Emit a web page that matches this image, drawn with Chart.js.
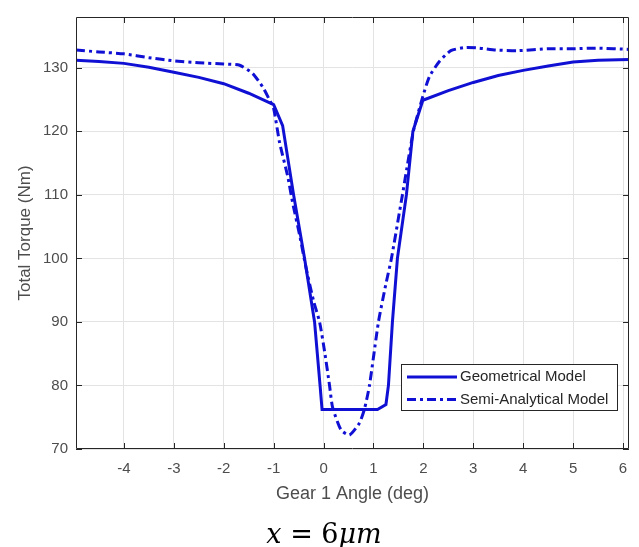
<!DOCTYPE html>
<html>
<head>
<meta charset="utf-8">
<script src="https://cdn.jsdelivr.net/npm/chart.js@4"></script>
<style>
    html, body { margin: 0; padding: 0; background: #ffffff; }
    #wrap { width: 639px; height: 547px; position: relative; }
</style>
</head>
<body>
<div id="wrap"><canvas id="torque-chart"></canvas></div>
<script>
// angles (deg) and torque (Nm)
const geomAngle = [-4.96, -4.5, -4, -3.5, -3, -2.5, -2, -1.5, -1, -0.82, -0.6, -0.38, -0.18, -0.07, -0.03,
    0.5, 1.08, 1.25, 1.3, 1.38, 1.48, 1.66, 1.79, 1.99, 2.5, 3, 3.5, 4, 4.5, 5, 5.5, 6.12];
const geomTorque = [131.2, 131.0, 130.7, 130.1, 129.3, 128.5, 127.5, 126.0, 124.2, 120.9, 110, 100, 90, 80, 76.2,
    76.2, 76.2, 77, 80, 90, 100, 110, 120, 124.9, 126.4, 127.7, 128.8, 129.6, 130.3, 130.9, 131.2, 131.3];

const semiAngle = [-4.96, -4.5, -4, -3.5, -3, -2.5, -2, -1.68, -1.42, -1.22, -1.08, -1.0, -0.88, -0.72, -0.62,
    -0.48, -0.35, -0.2, -0.08, 0.02, 0.12, 0.18, 0.35, 0.52, 0.72, 0.82, 0.92, 1.1, 1.25, 1.36, 1.58, 1.8,
    1.99, 2.12, 2.32, 2.55, 2.85, 3.12, 3.45, 3.9, 4.5, 5, 5.5, 6.12];
const semiTorque = [132.8, 132.5, 132.2, 131.6, 131.1, 130.8, 130.6, 130.4, 129.1, 127.0, 124.9, 123.6, 118.2, 113, 108.8,
    103.7, 98.5, 93.3, 90, 85.4, 80, 76.6, 73, 72.2, 74.1, 76.3, 80, 90, 96, 100, 110, 120,
    125.5, 128.6, 131, 132.7, 133.2, 133.1, 132.8, 132.7, 133, 133, 133.1, 132.9];

const xTicks = [-4, -3, -2, -1, 0, 1, 2, 3, 4, 5, 6];
const yTicks = [70, 80, 90, 100, 110, 120, 130];

const seriesNames = ["Geometrical Model", "Semi-Analytical Model"];
const lineColor = "#1010d4";
const inkColor = "#262626";
const sansFont = '"Liberation Sans", Arial, sans-serif';

function toPoints(xs, ys) {
    return xs.map((x, i) => ({ x: x, y: ys[i] }));
}

// box, inward tick marks, legend and caption in MATLAB style
const matlabFrame = {
    id: "matlabFrame",
    afterDatasetsDraw(chart) {
        const { ctx, chartArea: a, scales } = chart;
        ctx.save();
        ctx.strokeStyle = inkColor;
        ctx.lineWidth = 1;
        ctx.beginPath();
        ctx.rect(a.left + 0.5, a.top + 0.5, a.right - a.left - 1, a.bottom - a.top - 1);
        const tl = 6;
        xTicks.forEach((t) => {
            const px = Math.round(scales.x.getPixelForValue(t)) + 0.5;
            ctx.moveTo(px, a.bottom);
            ctx.lineTo(px, a.bottom - tl);
            ctx.moveTo(px, a.top);
            ctx.lineTo(px, a.top + tl);
        });
        yTicks.forEach((t) => {
            const py = Math.round(scales.y.getPixelForValue(t)) + 0.5;
            ctx.moveTo(a.left, py);
            ctx.lineTo(a.left + tl, py);
            ctx.moveTo(a.right, py);
            ctx.lineTo(a.right - tl, py);
        });
        ctx.stroke();

        // legend
        const lx = 401, ly = 364, lw = 216, lh = 46;
        ctx.fillStyle = "#ffffff";
        ctx.fillRect(lx, ly, lw, lh);
        ctx.strokeStyle = inkColor;
        ctx.strokeRect(lx + 0.5, ly + 0.5, lw, lh);
        ctx.font = "15px " + sansFont;
        ctx.textBaseline = "middle";
        ctx.textAlign = "left";
        chart.data.datasets.forEach((ds, i) => {
            const cy = ly + 13 + i * 22.5;
            ctx.strokeStyle = ds.borderColor;
            ctx.lineWidth = ds.borderWidth;
            ctx.setLineDash(ds.borderDash || []);
            ctx.beginPath();
            ctx.moveTo(lx + 6, cy);
            ctx.lineTo(lx + 56, cy);
            ctx.stroke();
            ctx.setLineDash([]);
            ctx.fillStyle = inkColor;
            ctx.fillText(ds.label, lx + 59, cy);
        });
        ctx.restore();
    },
    afterDraw(chart) {
        const ctx = chart.ctx;
        ctx.save();
        ctx.fillStyle = "#000000";
        ctx.textBaseline = "alphabetic";
        ctx.textAlign = "left";
        const parts = [
            ["x", 'italic 27px "DejaVu Serif", serif'],
            [" = 6", '27px "DejaVu Serif", serif'],
            ["\u03bcm", 'italic 27px "DejaVu Serif", serif'],
        ];
        let total = 0;
        parts.forEach((p) => {
            ctx.font = p[1];
            total += ctx.measureText(p[0]).width;
        });
        let x = 324 - total / 2;
        parts.forEach((p) => {
            ctx.font = p[1];
            ctx.fillText(p[0], x, 543);
            x += ctx.measureText(p[0]).width;
        });
        ctx.restore();
    },
};

new Chart(document.getElementById("torque-chart"), {
    type: "line",
    data: {
        datasets: [
            {
                label: seriesNames[0],
                data: toPoints(geomAngle, geomTorque),
                borderColor: lineColor,
                borderWidth: 3,
                pointRadius: 0,
                tension: 0,
                fill: false,
            },
            {
                label: seriesNames[1],
                data: toPoints(semiAngle, semiTorque),
                borderColor: lineColor,
                borderWidth: 3,
                borderDash: [9, 4, 3, 4],
                pointRadius: 0,
                tension: 0.2,
                fill: false,
            },
        ],
    },
    options: {
        responsive: true,
        maintainAspectRatio: false,
        animation: false,
        layout: { padding: { left: 0, right: 10, top: 12, bottom: 42 } },
        plugins: {
            legend: { display: false },
            tooltip: { enabled: false },
        },
        scales: {
            x: {
                type: "linear",
                min: -4.96,
                max: 6.12,
                afterBuildTicks(scale) {
                    scale.ticks = xTicks.map((v) => ({ value: v }));
                },
                afterFit(scale) {
                    scale.height = 56;
                },
                grid: { color: "#e3e3e3", drawTicks: false },
                border: { display: false },
                ticks: {
                    padding: 11,
                    color: "#4d4d4d",
                    font: { family: sansFont, size: 15 },
                },
                title: {
                    display: true,
                    text: "Gear 1 Angle (deg)",
                    color: "#4d4d4d",
                    padding: 0,
                    font: { family: sansFont, size: 18 },
                },
            },
            y: {
                min: 70,
                max: 138,
                afterBuildTicks(scale) {
                    scale.ticks = yTicks.map((v) => ({ value: v }));
                },
                afterFit(scale) {
                    scale.width = 76;
                },
                grid: { color: "#e3e3e3", drawTicks: false },
                border: { display: false },
                ticks: {
                    padding: 8,
                    color: "#4d4d4d",
                    font: { family: sansFont, size: 15 },
                },
                title: {
                    display: true,
                    text: "Total Torque (Nm)",
                    color: "#4d4d4d",
                    padding: { top: 15 },
                    font: { family: sansFont, size: 17 },
                },
            },
        },
    },
    plugins: [matlabFrame],
});
</script>
</body>
</html>
